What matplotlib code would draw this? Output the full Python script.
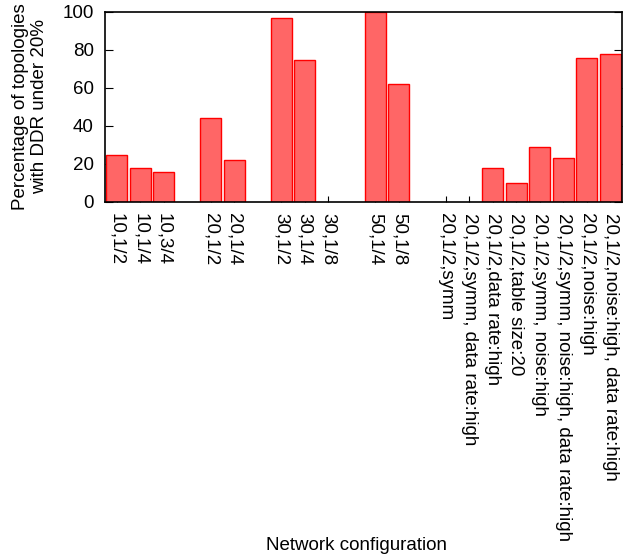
import matplotlib
matplotlib.use('Agg')
import matplotlib.pyplot as plt

# slots with '' are empty gaps between groups
configs = ['10,1/2', '10,1/4', '10,3/4', '',
           '20,1/2', '20,1/4', '',
           '30,1/2', '30,1/4', '30,1/8', '',
           '50,1/4', '50,1/8', '',
           '20,1/2,symm', '20,1/2,symm, data rate:high', '20,1/2,data rate:high',
           '20,1/2,table size:20', '20,1/2,symm, noise:high',
           '20,1/2,symm, noise:high, data rate:high', '20,1/2,noise:high',
           '20,1/2,noise:high, data rate:high']
percent = [25, 18, 16, None,
           44, 22, None,
           97, 75, 0, None,
           100, 62, None,
           0, 0, 18, 10, 29, 23, 76, 78]

plt.rcParams['font.family'] = ['Liberation Sans', 'DejaVu Sans']
plt.rcParams['font.size'] = 13.5

fig = plt.figure(figsize=(6.28, 5.6), dpi=100)
ax = fig.add_axes([105 / 628, 1 - 202 / 560, 517 / 628, 190 / 560])

xs = [i for i, v in enumerate(percent) if v is not None]
vals = [v for v in percent if v is not None]
labels = [configs[i] for i in xs]
edges = ['red' if v > 0 else 'none' for v in vals]

ax.bar(xs, vals, width=0.9, color='#ff6666', edgecolor=edges, linewidth=1.0, zorder=2)

ax.set_xlim(-0.5, len(configs) - 0.5)
ax.set_ylim(0, 100)
ax.set_yticks([0, 20, 40, 60, 80, 100])
ax.set_xticks(xs)
ax.set_xticklabels(labels, rotation=270, ha='center', va='top')
ax.tick_params(axis='y', direction='in', length=6, right=True, pad=8)
ax.tick_params(axis='x', direction='in', length=4, pad=8)
for s in ax.spines.values():
    s.set_linewidth(1.2)
    s.set_zorder(3)

fig.text(30 / 628, 1 - 107 / 560, 'Percentage of topologies\nwith DDR under 20%',
         rotation=90, ha='center', va='center', multialignment='center')
fig.text(356 / 628, 1 - 545 / 560, 'Network configuration', ha='center', va='center')

fig.savefig('out.png', dpi=100)
